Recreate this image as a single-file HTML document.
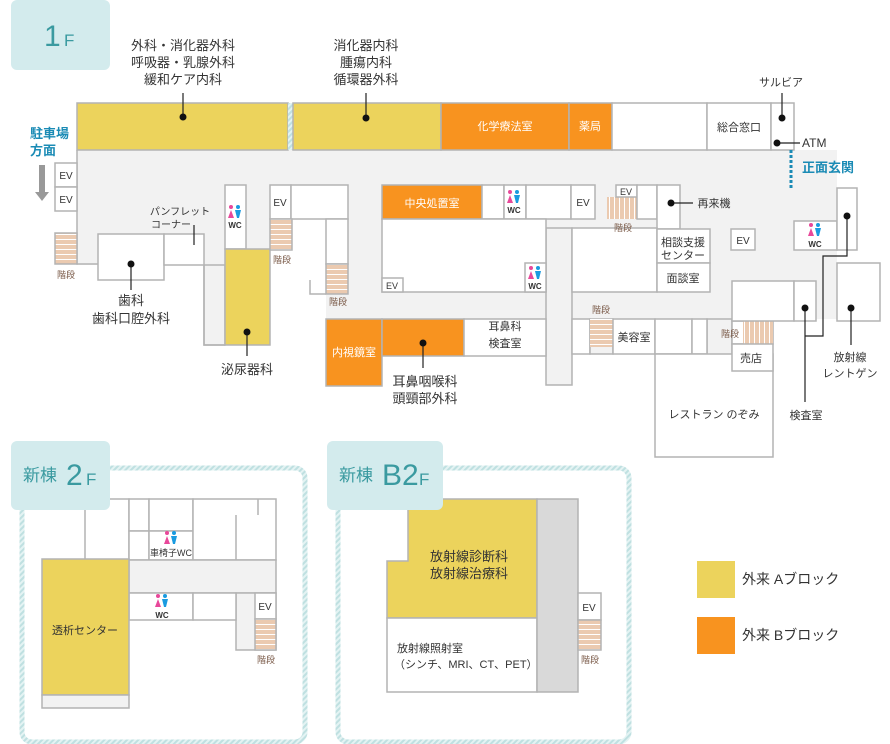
<!DOCTYPE html>
<html><head><meta charset="utf-8"><style>
html,body{margin:0;padding:0;background:#fff;width:890px;height:744px;overflow:hidden}
svg{display:block}
text{font-family:"Liberation Sans","Noto Sans CJK JP",sans-serif;fill:#333}
</style></head><body>
<svg width="890" height="744" viewBox="0 0 890 744" xmlns="http://www.w3.org/2000/svg">
<defs>
<pattern id="sh" width="10" height="5" patternUnits="userSpaceOnUse"><rect width="10" height="5" fill="#ebcab0"/><rect y="4" width="10" height="1.3" fill="#fff"/></pattern>
<pattern id="sv" width="5" height="10" patternUnits="userSpaceOnUse"><rect width="5" height="10" fill="#ebcab0"/><rect x="4" width="1.3" height="10" fill="#fff"/></pattern>
<pattern id="hatch" width="4" height="4" patternUnits="userSpaceOnUse" patternTransform="rotate(45)"><rect width="4" height="4" fill="#e4f3f3"/><rect width="2" height="4" fill="#bfe0e1"/></pattern>
<g id="wc"><circle cx="-4" cy="-6" r="2" fill="#e8489a"/><path d="M-4,-3 L-7,5 L-1,5 Z" fill="#e8489a"/><circle cx="3" cy="-6" r="2" fill="#1a9be0"/><path d="M0,-3 L6,-3 L4,5 L2,5 Z" fill="#1a9be0"/></g>
</defs>
<g stroke="#b3b3b3" stroke-width="1.5">
<!-- 1F gray base -->
<rect x="77" y="150" width="760" height="169" fill="#f2f2f2" stroke="none"/>
<rect x="77" y="265" width="127" height="60" fill="#fff" stroke="none"/>
<rect x="270" y="219" width="56" height="100" fill="#fff" stroke="none"/>
<rect x="204" y="265" width="21" height="80" fill="#f2f2f2"/>
<rect x="546" y="228" width="26" height="157" fill="#f2f2f2"/>
<rect x="707" y="319" width="25" height="52" fill="#f2f2f2"/>
<path d="M77,150 L77,264 L98,264" fill="none"/>
<path d="M204,265 L204,345 L225,345" fill="none"/>
<!-- top band -->
<rect x="77" y="103" width="211" height="47" fill="#ecd35c"/>
<rect x="288" y="103" width="5" height="47" fill="url(#hatch)" stroke="none"/>
<rect x="293" y="103" width="148" height="47" fill="#ecd35c"/>
<rect x="441" y="103" width="128" height="47" fill="#f8931f"/>
<rect x="569" y="103" width="43" height="47" fill="#f8931f"/>
<rect x="612" y="103" width="95" height="47" fill="#fff"/>
<rect x="707" y="103" width="64" height="47" fill="#fff"/>
<rect x="771" y="103" width="23" height="47" fill="#fff"/>
<!-- left -->
<rect x="55" y="163" width="22" height="24" fill="#fff"/>
<rect x="55" y="187" width="22" height="24" fill="#fff"/>
<rect x="55" y="233" width="22" height="31" fill="url(#sh)"/>
<rect x="98" y="234" width="66" height="46" fill="#fff"/>
<rect x="164" y="234" width="40" height="31" fill="#fff"/>
<rect x="225" y="185" width="21" height="64" fill="#fff"/>
<rect x="225" y="249" width="45" height="96" fill="#ecd35c"/>
<rect x="270" y="185" width="21" height="34" fill="#fff"/>
<rect x="291" y="185" width="57" height="34" fill="#fff"/>
<rect x="270" y="219" width="22" height="31" fill="url(#sh)"/>
<rect x="326" y="219" width="22" height="45" fill="#fff"/>
<rect x="326" y="264" width="22" height="30" fill="url(#sh)"/>
<path d="M310,280 L310,294 L326,294" fill="none"/>
<!-- central -->
<rect x="382" y="185" width="100" height="34" fill="#f8931f"/>
<rect x="482" y="185" width="22" height="34" fill="#fff"/>
<rect x="504" y="185" width="22" height="34" fill="#fff"/>
<rect x="526" y="185" width="45" height="34" fill="#fff"/>
<rect x="571" y="185" width="24" height="34" fill="#fff"/>
<rect x="607" y="197" width="30" height="22" fill="url(#sv)" stroke="none"/>
<rect x="616" y="185" width="21" height="12" fill="#fff"/>
<rect x="637" y="185" width="20" height="34" fill="#fff"/>
<rect x="657" y="185" width="23" height="44" fill="#fff"/>
<rect x="382" y="219" width="164" height="73" fill="#fff"/>
<rect x="382" y="278" width="21" height="14" fill="#fff"/>
<rect x="525" y="263" width="21" height="29" fill="#fff"/>
<rect x="572" y="228" width="85" height="64" fill="#fff"/>
<rect x="657" y="229" width="53" height="34" fill="#fff"/>
<rect x="657" y="263" width="53" height="29" fill="#fff"/>
<rect x="731" y="229" width="24" height="21" fill="#fff"/>
<!-- lower row -->
<rect x="326" y="319" width="56" height="67" fill="#f8931f"/>
<rect x="382" y="319" width="82" height="37" fill="#f8931f"/>
<rect x="464" y="319" width="82" height="37" fill="#fff"/>
<rect x="572" y="319" width="18" height="35" fill="#fff"/>
<rect x="590" y="319" width="23" height="35" fill="#f2f2f2"/>
<rect x="590" y="319" width="23" height="28" fill="url(#sh)" stroke="none"/>
<rect x="613" y="319" width="42" height="35" fill="#fff"/>
<rect x="655" y="319" width="37" height="35" fill="#fff"/>
<rect x="692" y="319" width="15" height="35" fill="#fff"/>
<rect x="655" y="354" width="118" height="103" fill="#fff"/>
<rect x="732" y="321" width="41" height="23" fill="#fff"/>
<rect x="743" y="321" width="30" height="23" fill="url(#sv)" stroke="none"/>
<rect x="732" y="344" width="41" height="27" fill="#fff"/>
<rect x="732" y="281" width="62" height="40" fill="#fff"/>
<rect x="794" y="281" width="22" height="40" fill="#fff"/>
<rect x="794" y="221" width="43" height="29" fill="#fff"/>
<rect x="837" y="188" width="20" height="62" fill="#fff"/>
<rect x="837" y="263" width="43" height="58" fill="#fff"/>
<!-- 2F -->
<rect x="22" y="468" width="283" height="274" rx="10" fill="#fff" stroke="url(#hatch)" stroke-width="5"/>
<rect x="85" y="499" width="44" height="61" fill="#fff"/>
<rect x="129" y="499" width="20" height="32" fill="#fff"/>
<rect x="129" y="531" width="20" height="29" fill="#fff"/>
<rect x="149" y="499" width="44" height="32" fill="#fff"/>
<rect x="149" y="531" width="44" height="29" fill="#fff"/>
<rect x="193" y="499" width="83" height="61" fill="#fff"/>
<path d="M236,515 L236,560 M258,499 L258,515" fill="none"/>
<rect x="129" y="560" width="147" height="33" fill="#f2f2f2"/>
<rect x="236" y="593" width="40" height="57" fill="#f2f2f2"/>
<rect x="129" y="593" width="64" height="27" fill="#fff"/>
<rect x="193" y="593" width="43" height="27" fill="#fff"/>
<rect x="255" y="593" width="21" height="26" fill="#fff"/>
<rect x="255" y="619" width="21" height="31" fill="url(#sh)"/>
<rect x="42" y="559" width="87" height="136" fill="#ecd35c"/>
<rect x="42" y="695" width="87" height="13" fill="#f2f2f2"/>
<!-- B2F -->
<rect x="338" y="468" width="291" height="274" rx="10" fill="#fff" stroke="url(#hatch)" stroke-width="5"/>
<path d="M408,499 L537,499 L537,618 L387,618 L387,561 L408,561 Z" fill="#ecd35c"/>
<rect x="387" y="618" width="150" height="74" fill="#fff"/>
<rect x="537" y="499" width="41" height="193" fill="#d9d9d9"/>
<rect x="578" y="593" width="23" height="27" fill="#fff"/>
<rect x="578" y="620" width="23" height="30" fill="url(#sh)"/>
</g>
<!-- tabs -->
<rect x="11" y="0" width="99" height="70" rx="6" fill="#d3ebed"/>
<rect x="11" y="441" width="99" height="69" rx="6" fill="#d3ebed"/>
<rect x="327" y="441" width="116" height="69" rx="6" fill="#d3ebed"/>
<text x="44" y="46" font-size="30" style="fill:#3a9aa0">1</text><text x="64" y="46" font-size="17" style="fill:#3a9aa0">F</text>
<text x="23" y="481" font-size="17" style="fill:#3a9aa0">新棟</text><text x="66" y="485" font-size="30" style="fill:#3a9aa0">2</text><text x="86" y="485" font-size="17" style="fill:#3a9aa0">F</text>
<text x="339" y="481" font-size="17" style="fill:#3a9aa0">新棟</text><text x="382" y="485" font-size="30" style="fill:#3a9aa0">B2</text><text x="419" y="485" font-size="17" style="fill:#3a9aa0">F</text>
<!-- leaders -->
<g stroke="#222" stroke-width="1.2" fill="none">
<path d="M183,93 L183,117 M366,93 L366,118 M782,93 L782,118 M777,143 L800,143 M671,203 L693,203 M131,264 L131,290 M194,225 L194,245 M247,332 L247,356 M423,343 L423,368 M847,216 L847,256 L823,256 L823,336 L805,336 M805,308 L805,402 M851,308 L851,345"/>
</g>
<g fill="#111">
<circle cx="183" cy="117" r="3.5"/><circle cx="366" cy="118" r="3.5"/><circle cx="782" cy="118" r="3.5"/><circle cx="777" cy="143" r="3.5"/><circle cx="671" cy="203" r="3.5"/><circle cx="131" cy="264" r="3.5"/><circle cx="247" cy="332" r="3.5"/><circle cx="423" cy="343" r="3.5"/><circle cx="847" cy="216" r="3.5"/><circle cx="805" cy="308" r="3.5"/><circle cx="851" cy="308" r="3.5"/>
</g>
<line x1="791" y1="150" x2="791" y2="188" stroke="#1a8bb5" stroke-width="3" stroke-dasharray="3,2"/>
<rect x="39" y="165" width="6" height="28" fill="#999"/><path d="M35,192 L49,192 L42,201 Z" fill="#999"/>
<!-- wc icons -->
<use href="#wc" x="235" y="213"/><use href="#wc" x="514" y="198"/><use href="#wc" x="535" y="274"/><use href="#wc" x="815" y="231"/>
<use href="#wc" x="171" y="539"/><use href="#wc" x="162" y="602"/>
<g font-size="8" font-weight="bold" text-anchor="middle">
<text x="235" y="228">WC</text><text x="514" y="213">WC</text><text x="535" y="289">WC</text><text x="815" y="247">WC</text><text x="162" y="618">WC</text>
</g>
<text x="171" y="556" font-size="9" text-anchor="middle">車椅子WC</text>
<!-- labels -->
<g font-size="13" text-anchor="middle">
<text x="183" y="50">外科・消化器外科</text><text x="183" y="67">呼吸器・乳腺外科</text><text x="183" y="84">緩和ケア内科</text>
<text x="366" y="50">消化器内科</text><text x="366" y="67">腫瘍内科</text><text x="366" y="84">循環器外科</text>
<text x="131" y="305">歯科</text><text x="131" y="323">歯科口腔外科</text>
<text x="247" y="374">泌尿器科</text>
<text x="425" y="386">耳鼻咽喉科</text><text x="425" y="403">頭頸部外科</text>
</g>
<g font-size="11" text-anchor="middle">
<text x="781" y="86">サルビア</text><text x="739" y="131">総合窓口</text>
<text x="505" y="330">耳鼻科</text><text x="505" y="347">検査室</text>
<text x="634" y="341">美容室</text><text x="683" y="246">相談支援</text><text x="683" y="259">センター</text><text x="683" y="282">面談室</text>
<text x="751" y="362">売店</text><text x="714" y="418">レストラン のぞみ</text>
<text x="806" y="419">検査室</text><text x="850" y="361">放射線</text><text x="850" y="377">レントゲン</text>
<text x="714" y="207">再来機</text>
<text x="180" y="215" font-size="10">パンフレット</text><text x="171" y="228" font-size="10">コーナー</text>
<text x="85" y="634">透析センター</text>
</g>
<text x="802" y="147" font-size="12">ATM</text>
<g font-size="11" text-anchor="middle" style="fill:#fff">
<text x="505" y="130" style="fill:#fff">化学療法室</text><text x="590" y="130" style="fill:#fff">薬局</text>
<text x="432" y="207" style="fill:#fff">中央処置室</text><text x="354" y="356" style="fill:#fff">内視鏡室</text>
</g>
<g font-size="13" font-weight="bold" style="fill:#1a8bb5">
<text x="30" y="138" style="fill:#1a8bb5">駐車場</text><text x="30" y="155" style="fill:#1a8bb5">方面</text>
<text x="802" y="172" style="fill:#1a8bb5">正面玄関</text>
</g>
<g font-size="9" text-anchor="middle">
<text x="66" y="278" style="fill:#7a5a48">階段</text><text x="282" y="263" style="fill:#7a5a48">階段</text><text x="338" y="305" style="fill:#7a5a48">階段</text>
<text x="623" y="231" style="fill:#7a5a48">階段</text><text x="601" y="313" style="fill:#7a5a48">階段</text><text x="730" y="337" style="fill:#7a5a48">階段</text>
<text x="266" y="663" style="fill:#7a5a48">階段</text><text x="590" y="663" style="fill:#7a5a48">階段</text>
</g>
<g font-size="10" text-anchor="middle">
<text x="66" y="179">EV</text><text x="66" y="203">EV</text><text x="280" y="206">EV</text><text x="583" y="206">EV</text><text x="626" y="195" font-size="9">EV</text>
<text x="392" y="289" font-size="9">EV</text><text x="743" y="244">EV</text><text x="265" y="610">EV</text><text x="589" y="611">EV</text>
</g>
<g font-size="13" text-anchor="middle"><text x="469" y="561">放射線診断科</text><text x="469" y="578">放射線治療科</text></g>
<text x="397" y="652" font-size="11">放射線照射室</text><text x="394" y="668" font-size="11">（シンチ、MRI、CT、PET）</text>
<rect x="697" y="561" width="38" height="37" fill="#ecd35c"/><rect x="697" y="617" width="38" height="37" fill="#f8931f"/>
<text x="742" y="584" font-size="14">外来 Aブロック</text><text x="742" y="640" font-size="14">外来 Bブロック</text>
</svg>
</body></html>
